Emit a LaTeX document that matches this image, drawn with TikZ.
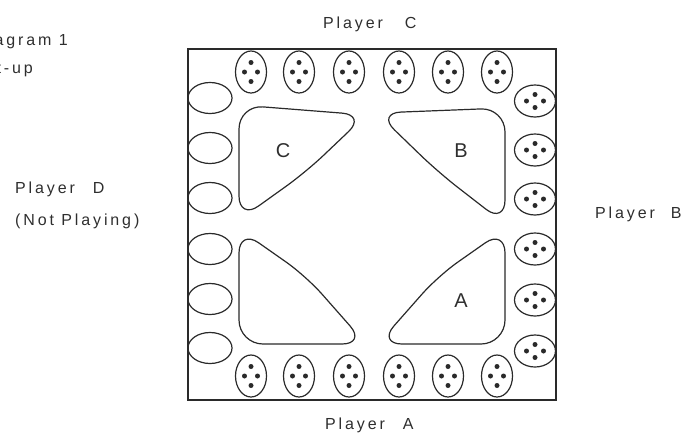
\documentclass[tikz,border=0pt]{standalone}
\usepackage{fontspec}
\usetikzlibrary{shapes.geometric}
\newfontfamily\labfont{Liberation Sans}[LetterSpace=18]
\newfontfamily\shapefont{Liberation Sans}
\definecolor{ink}{HTML}{2A2A2A}
\definecolor{txt}{HTML}{2E2E2E}
\tikzset{
  lab/.style={font=\labfont\fontsize{16}{17}\selectfont, text=txt, inner sep=0pt},
  big/.style={font=\shapefont\fontsize{20}{20}\selectfont, text=txt, inner sep=0pt},
  vseat/.style={ellipse, draw=ink, line width=1.2pt, minimum width=31pt, minimum height=42pt, inner sep=0pt},
  hseat/.style={ellipse, draw=ink, line width=1.2pt, minimum width=41pt, minimum height=32pt, inner sep=0pt},
  emptyseat/.style={ellipse, draw=ink, line width=1.2pt, minimum width=44pt, minimum height=31pt, inner sep=0pt},
  area/.style={draw=ink, line width=1.2pt, rounded corners=24pt},
  board/.style={draw=ink, line width=1.4pt, minimum width=368pt, minimum height=351pt, inner sep=0pt},
  chip/.style={fill=ink}
}
\begin{document}
\begin{tikzpicture}[x=1pt,y=-1pt]
\useasboundingbox (0,0) rectangle (687,432);
\clip (0,0) rectangle (687,432);

% board
\node[board] (table) at (372,224.5) {};

% top and bottom rows (vertical ovals with four chips)
\foreach \x [count=\i] in {251,299,349,399,448,497} {
  \node[vseat] (top\i) at (\x,72) {};
  \node[vseat] (bot\i) at (\x,376) {};
  \foreach \n in {top\i,bot\i} {
    \fill[chip] (\n.center) ++(0,-9.5) circle (2.5);
    \fill[chip] (\n.center) ++(0,9.5) circle (2.5);
    \fill[chip] (\n.center) ++(-6.5,0) circle (2.5);
    \fill[chip] (\n.center) ++(6.5,0) circle (2.5);
  }
}
% right column (horizontal ovals with four chips)
\foreach \y [count=\i] in {101,150,199,249,300,351} {
  \node[hseat] (rgt\i) at (535,\y) {};
  \fill[chip] (rgt\i.center) ++(0,-6.5) circle (2.5);
  \fill[chip] (rgt\i.center) ++(0,6.5) circle (2.5);
  \fill[chip] (rgt\i.center) ++(-8.5,0) circle (2.5);
  \fill[chip] (rgt\i.center) ++(8.5,0) circle (2.5);
}
% left column (empty ovals)
\foreach \y [count=\i] in {98,148,198,249,299,348} {
  \node[emptyseat] (lft\i) at (210,\y) {};
}

% rounded triangular areas
\draw[area] (239,160) -- (239,105) -- (366,115) -- (306,172) -- (239,220) -- cycle;
\draw[area] (505,165) -- (505,108) -- (377,113) -- (438,172) -- (505,224) -- cycle;
\draw[area] (239,290) -- (239,344) -- (366,344) -- (306,276) -- (239,229) -- cycle;
\draw[area] (505,290) -- (505,344) -- (378,344) -- (438,276) -- (505,229) -- cycle;

\node[big] (lc) at (283,151) {C};
\node[big] (lb) at (461,151) {B};
\node[big] (la) at (461,301) {A};

% player labels
\node[lab, anchor=base west] (pc) at (323,28) {Player\hspace{22pt}C};
\node[lab, anchor=base west] (pa) at (325,429) {Player\hspace{18pt}A};
\node[lab, anchor=base west] (pb) at (595,218) {Player\hspace{16pt}B};
\node[lab, anchor=base west] (pd) at (15,193) {Player\hspace{18pt}D};
\node[lab, anchor=base west] (np) at (15,225) {(Not Playing)};

% title (cut off at the left edge, as in the reference)
\node[lab, anchor=base east] (t1) at (68,45) {Diagram 1};
\node[lab, anchor=base east] (t2) at (33,73) {Set-up};
\end{tikzpicture}
\end{document}
